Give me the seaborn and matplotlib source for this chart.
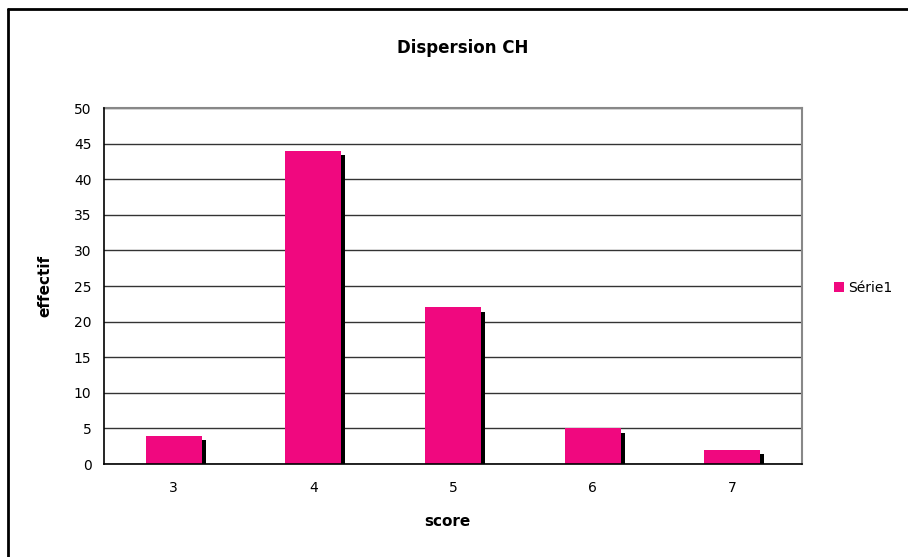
import matplotlib
matplotlib.use("Agg")
import matplotlib.pyplot as plt
import matplotlib.patheffects as pe
from matplotlib.patches import Rectangle
from matplotlib.lines import Line2D
import seaborn as sns
import pandas as pd

scores = ["3", "4", "5", "6", "7"]
effectif = [4, 44, 22, 5, 2]
series_name = "Série1"
title = "Dispersion CH"
xlabel = "score"
ylabel = "effectif"
yticks = [0, 5, 10, 15, 20, 25, 30, 35, 40, 45, 50]

sns.set_theme(style="white")
plt.rcParams['font.family'] = ['DejaVu Sans']
plt.rcParams['text.color'] = 'black'
plt.rcParams['xtick.color'] = 'black'
plt.rcParams['ytick.color'] = 'black'
plt.rcParams['axes.labelcolor'] = 'black'

pink = "#F0087F"

fig = plt.figure(figsize=(9.08, 5.57), dpi=100)
ax = fig.add_axes([104/908, 1-464/557, (802-104)/908, (464-108)/557])

df = pd.DataFrame({"score": scores, "effectif": effectif})
sns.barplot(data=df, x="score", y="effectif", color=pink, width=0.4,
            saturation=1, ax=ax, zorder=3, edgecolor="none")
for p in ax.patches:
    p.set_path_effects([pe.SimplePatchShadow(offset=(3, -3), shadow_rgbFace="black", alpha=1.0), pe.Normal()])

ax.set_xlim(-0.5, len(scores) - 0.5)
ax.set_ylim(0, 50)
ax.set_yticks(yticks)
ax.set_yticklabels([str(v) for v in yticks], fontsize=10, color="black")
ax.tick_params(axis="y", which="major", direction="out", length=5, width=1, color="black", pad=4)
ax.set_xticks(range(len(scores)))
ax.set_xticklabels(scores, fontsize=10, color="black")
ax.set_xticks([i - 0.5 for i in range(len(scores) + 1)], minor=True)
ax.tick_params(axis="x", which="major", length=0, pad=12)
ax.tick_params(axis="x", which="minor", direction="out", length=5, width=1, color="black")

ax.yaxis.grid(True, color="#333333", linewidth=1)
ax.set_axisbelow(True)
for s in ["top", "right"]:
    ax.spines[s].set_color("#888888")
    ax.spines[s].set_linewidth(1.5)
for s in ["left", "bottom"]:
    ax.spines[s].set_color("black")
    ax.spines[s].set_linewidth(1.2)
    ax.spines[s].set_zorder(5)

ax.set_xlabel("")
ax.set_ylabel("")
fig.text(447/908, 1-522/557, xlabel, fontsize=11, fontweight="bold", ha="center", va="center", color="black")
fig.text(45/908, 1-286/557, ylabel, fontsize=11, fontweight="bold", ha="center", va="center", rotation=90, color="black")
fig.text(463/908, 1-48/557, title, fontsize=12, fontweight="bold", ha="center", va="center", color="black")

handle = Rectangle((0, 0), 1, 1, facecolor=pink, edgecolor="none")
leg = fig.legend([handle], [series_name], loc="center left", bbox_to_anchor=(834/908, 1-288/557),
           frameon=False, fontsize=10, handlelength=0.7, handleheight=0.7, handletextpad=0.3,
           borderpad=0, borderaxespad=0)
for t in leg.get_texts():
    t.set_color("black")

# outer chart border (left and top visible)
fig.add_artist(Line2D([8/908, 8/908], [0, 1-9/557], transform=fig.transFigure, color="black", linewidth=2))
fig.add_artist(Line2D([8/908, 1], [1-9/557, 1-9/557], transform=fig.transFigure, color="black", linewidth=2))

fig.savefig("out.png", dpi=100)
